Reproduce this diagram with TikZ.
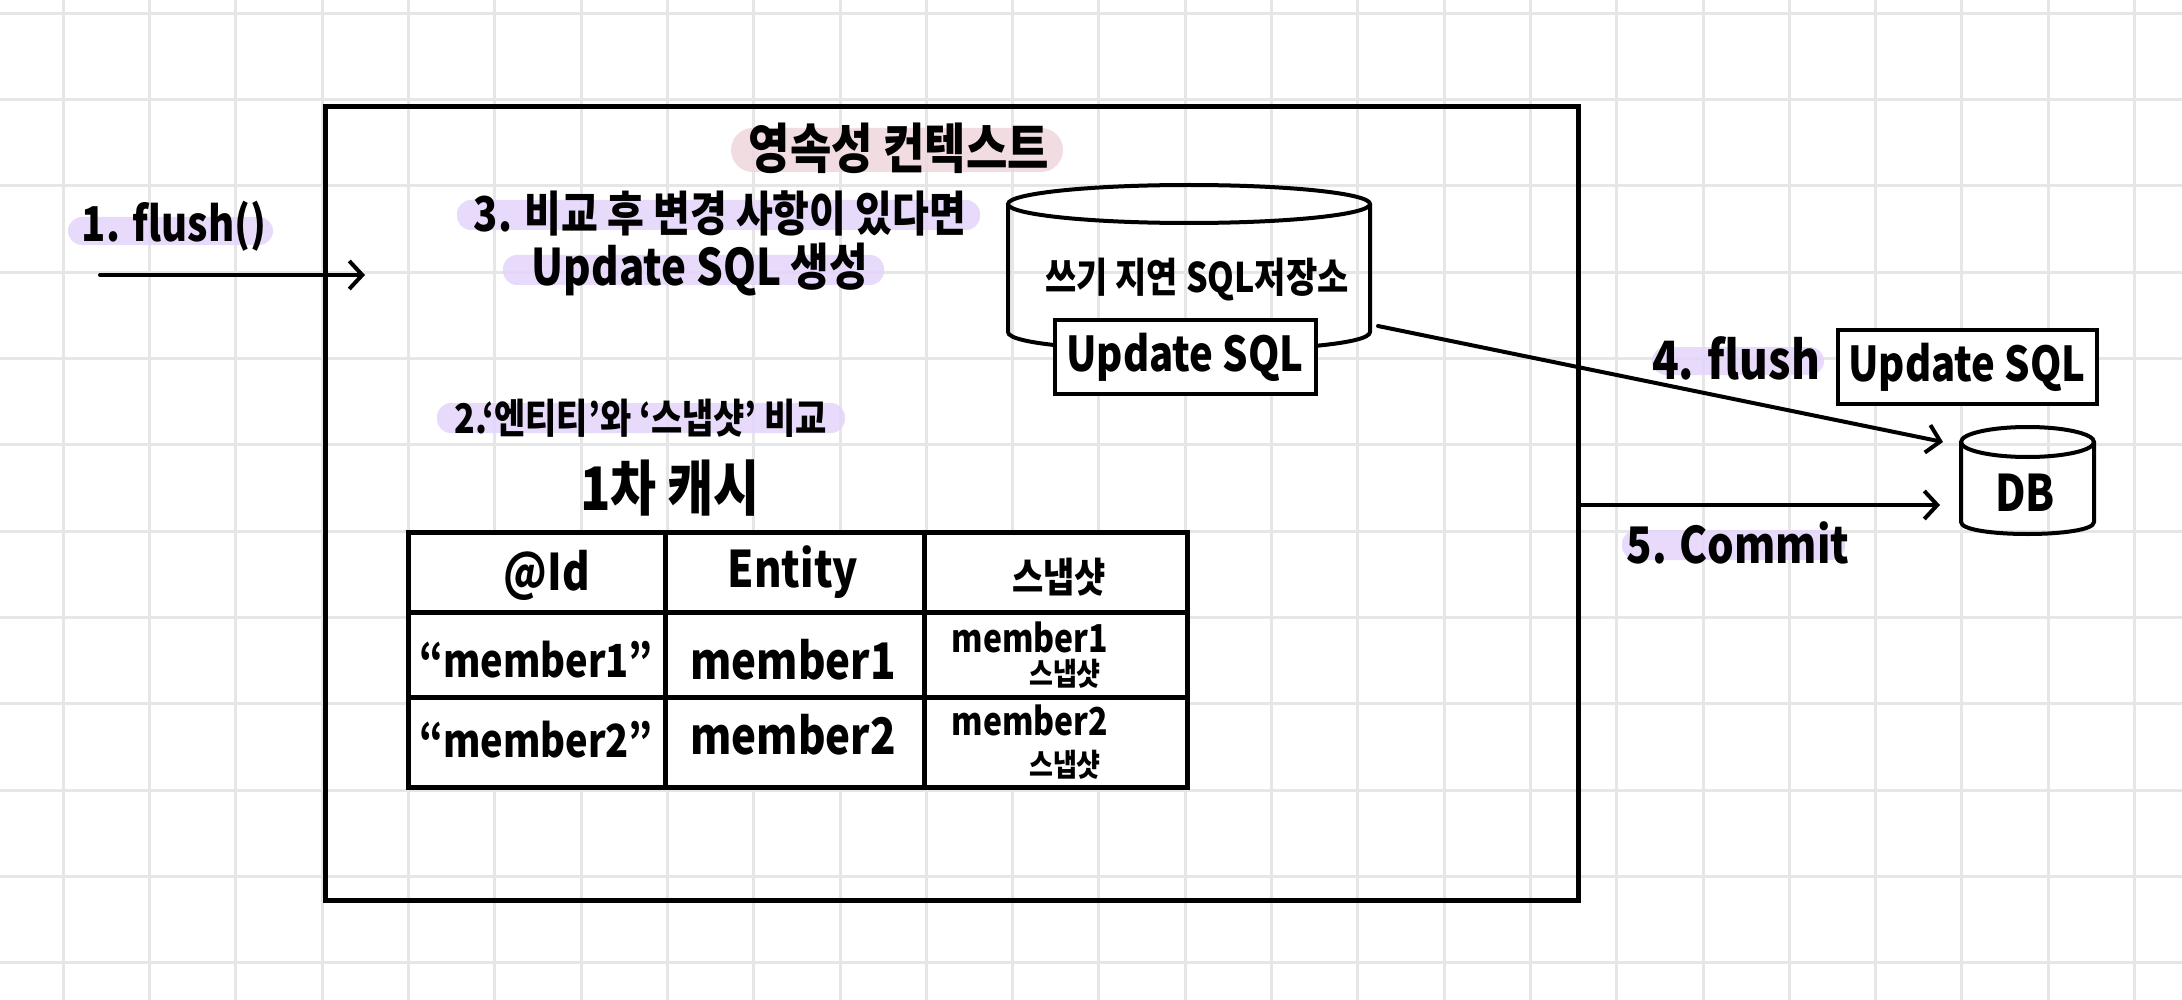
\documentclass[tikz,border=0pt]{standalone}
\usepackage{fontspec}
\setmainfont{Noto Sans CJK KR}
\usetikzlibrary{arrows.meta}
\definecolor{gridc}{HTML}{E6E6E6}
\definecolor{lav}{HTML}{E3D4FA}
\definecolor{pinkc}{HTML}{EFD6DC}
\begin{document}
\begin{tikzpicture}[x=1pt,y=-1pt,
  gridline/.style={gridc, line width=3pt},
  pill/.style={fill=lav, fill opacity=0.85, rounded corners=14pt},
  pinkpill/.style={fill=pinkc, fill opacity=0.85, rounded corners=22pt},
  txt/.style={inner sep=0pt, yscale=1.2, transform shape, font=\fontsize{#1}{#1}\selectfont\bfseries},
  frame/.style={draw=black, line width=5pt},
  sqlbox/.style={draw=black, fill=white, line width=4pt, inner sep=0pt},
  sqltxt/.style={inner sep=0pt, yscale=1.2, transform shape, font=\fontsize{40}{40}\selectfont\bfseries},
  cyl/.style={draw=black, line width=4pt},
  arr/.style={draw=black, line width=4pt, line cap=round, -{Straight Barb[length=13pt,width=28pt]}},
]
\useasboundingbox (0,0) rectangle (2182,1000);
\fill[white] (0,0) rectangle (2182,1000);
% grid
\foreach \k in {0,...,24} \draw[gridline] ({63.3+86.3*\k},0) -- ({63.3+86.3*\k},1000);
\foreach \k in {0,...,11} \draw[gridline] (0,{13.3+86.3*\k}) -- (2182,{13.3+86.3*\k});

% persistence context frame
\node (pc) [frame, inner sep=0pt, minimum width=1253pt, minimum height=794pt, anchor=north west] at (323,104) {};

% highlight pills
\fill[pinkpill] (731,128) rectangle (1063,172);
\fill[pill] (68,217) rectangle (273,245);
\fill[pill] (457,200) rectangle (980,230);
\fill[pill] (503,255) rectangle (884,285);
\fill[pill] (437,403) rectangle (845,433);
\fill[pill] (1652,347) rectangle (1824,375);
\fill[pill] (1622,530) rectangle (1845,560);

% labels
\node (title) [txt=45] at (899,148) {영속성 컨텍스트};
\node (l1) [txt=40] at (174,226) {1. flush()};
\node (l3a) [txt=40] at (720,213) {3. 비교 후 변경 사항이 있다면};
\node (l3b) [txt=42] at (700,270) {Update SQL 생성};
\node (l2) [txt=34] at (641,418) {2.‘엔티티’와 ‘스냅샷’ 비교};
\node (cache) [txt=50] at (670,488) {1차 캐시};
\node (l4) [txt=44] at (1736,358) {4. flush};
\node (l5) [txt=42] at (1738,543) {5. Commit};

% write-behind SQL store (cylinder)
\draw[cyl] (1008,204) -- (1008,332) .. controls (1008,357) and (1370,357) .. (1370,332) -- (1370,204);
\draw[cyl] (1189,204) ellipse [x radius=181pt, y radius=19pt];
\node (store) [txt=34] at (1197,280) {쓰기 지연 SQL저장소};
\node (ubox) [sqlbox, minimum width=261pt, minimum height=74pt] at (1185,357) {};
\node (uboxt) [sqltxt] at (ubox.center) {Update SQL};

% DB cylinder
\draw[cyl] (1961,442) -- (1961,522) .. controls (1961,538) and (2094,538) .. (2094,522) -- (2094,442);
\draw[cyl] (2027.5,442) ellipse [x radius=66.5pt, y radius=15pt];
\node (db) [txt=42] at (2025,493) {DB};

% right Update SQL box
\node (ubox2) [sqlbox, minimum width=259pt, minimum height=73pt] at (1967,367) {};
\node (ubox2t) [sqltxt] at (ubox2.center) {Update SQL};

% first-level cache table
\draw[frame, fill=white] (408,532) rectangle (1187,787);
\draw[frame] (665,532) -- (665,787);
\draw[frame] (924,532) -- (924,787);
\draw[frame] (408,612) -- (1187,612);
\draw[frame] (408,697) -- (1187,697);
\node (hid) [txt=42] at (547,575) {@Id};
\node (hent) [txt=42] at (793,572) {Entity};
\node (hsnap) [txt=34] at (1059,577) {스냅샷};
\node (r1id) [txt=38] at (536,660) {“member1”};
\node (r1ent) [txt=42] at (793,660) {member1};
\node (r1s) [txt=32] at (1030,637) {member1};
\node (r1s2) [txt=26] at (1065,674) {스냅샷};
\node (r2id) [txt=38] at (536,740) {“member2”};
\node (r2ent) [txt=42] at (793,735) {member2};
\node (r2s) [txt=32] at (1030,720) {member2};
\node (r2s2) [txt=26] at (1065,765) {스냅샷};

% connectors
\coordinate (a1s) at (100,275);
\coordinate (a1e) at (365,275);
\draw[arr] (a1s) -- (a1e);
\coordinate (a4s) at (1378,326);
\coordinate (a4e) at (1943,442);
\draw[arr] (a4s) -- (a4e);
\coordinate (a5s) at (pc.east |- 0,505);
\coordinate (a5e) at (1940,505);
\draw[arr] (a5s) -- (a5e);
\end{tikzpicture}
\end{document}
